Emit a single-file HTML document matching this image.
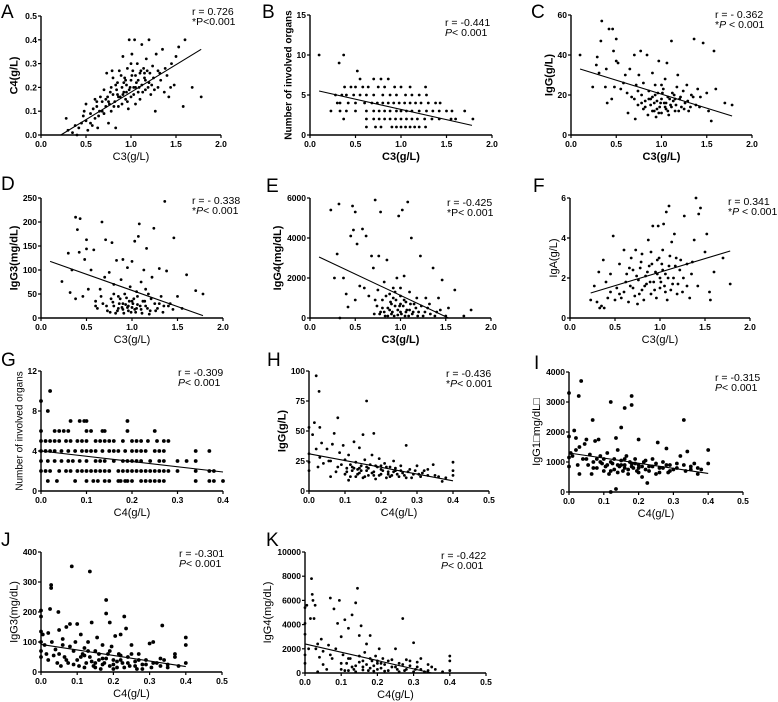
<!DOCTYPE html>
<html><head><meta charset="utf-8"><style>
body{margin:0;background:#fff}
svg{display:block}
text{font-family:"Liberation Sans",Arial,sans-serif;fill:#000}
.tk{font-size:8.5px;font-weight:bold}
.ann{font-size:10.5px}
.lt{font-size:19px}
</style></head><body>
<svg id="fig" width="778" height="702" viewBox="0 0 778 702" xmlns="http://www.w3.org/2000/svg"></svg>
<script>
const ptsA=[[0.28,0.07],[0.3,0.02],[0.35,0.01],[0.38,0.04],[0.4,0],[0.42,0.03],[0.45,0.05],[0.47,0.08],[0.48,0.1],[0.5,0.06],[0.5,0.13],[0.52,0.02],[0.55,0.09],[0.57,0.04],[0.58,0.11],[0.6,0.07],[0.6,0.15],[0.62,0.12],[0.63,0.03],[0.65,0.1],[0.66,0.16],[0.68,0.14],[0.7,0.09],[0.7,0.19],[0.72,0.12],[0.73,0.26],[0.74,0.16],[0.75,0.05],[0.76,0.13],[0.78,0.2],[0.78,0.1],[0.8,0.17],[0.8,0.24],[0.82,0.14],[0.83,0.03],[0.84,0.19],[0.85,0.22],[0.86,0.12],[0.87,0.27],[0.88,0.16],[0.9,0.2],[0.9,0.13],[0.91,0.33],[0.92,0.18],[0.93,0.24],[0.94,0.15],[0.95,0.21],[0.96,0.28],[0.97,0.11],[0.98,0.4],[0.98,0.19],[1.0,0.23],[1.0,0.16],[1.01,0.34],[1.02,0.27],[1.03,0.2],[1.04,0.4],[1.05,0.13],[1.05,0.25],[1.07,0.3],[1.08,0.18],[1.08,0.23],[1.1,0.26],[1.1,0.15],[1.12,0.38],[1.12,0.21],[1.14,0.28],[1.15,0.24],[1.16,0.19],[1.17,0.32],[1.18,0.27],[1.2,0.22],[1.2,0.4],[1.22,0.17],[1.24,0.29],[1.25,0.24],[1.27,0.1],[1.28,0.34],[1.3,0.2],[1.3,0.27],[1.33,0.23],[1.35,0.36],[1.37,0.18],[1.4,0.25],[1.42,0.16],[1.45,0.3],[1.48,0.21],[1.5,0.33],[1.53,0.37],[1.58,0.12],[1.6,0.4],[1.68,0.2],[1.78,0.16],[0.85,0.17],[0.95,0.18],[1.05,0.2],[0.75,0.14],[0.92,0.22],[1.15,0.26],
[0.72,0.15],[0.77,0.18],[0.81,0.12],[0.83,0.21],[0.86,0.16],[0.89,0.25],[0.91,0.17],[0.94,0.23],[0.96,0.14],[0.99,0.2],[1.01,0.25],[1.03,0.17],[1.06,0.22],[1.09,0.2],[1.11,0.27],[1.13,0.18],[1.16,0.23],[1.19,0.2],[1.21,0.26],[1.23,0.21],[1.26,0.19],[1.32,0.26],[0.68,0.1],[0.64,0.08],[0.55,0.05],[0.62,0.14],[1.38,0.28],[1.44,0.2],[0.79,0.27],[1.0,0.3]];
const lineA=[[0.22,0],[1.78,0.36]];
const bRowValues=[10,9,8,7,6,5,4,3,2,1];
const bRowX=[[0.1,0.37],[0.32],[0.52],[0.55,0.7,0.78,0.86],[0.38,0.45,0.5,0.58,0.64,0.75,0.82,0.93,1.0,1.1,1.27],[0.28,0.35,0.4,0.48,0.55,0.62,0.7,0.8,0.88,0.95,1.05,1.12,1.2,1.28],[0.3,0.33,0.42,0.5,0.6,0.68,0.74,0.8,0.86,0.92,0.98,1.04,1.1,1.16,1.22,1.3,1.38,1.43],[0.23,0.33,0.4,0.5,0.62,0.7,0.76,0.82,0.88,0.95,1.0,1.06,1.12,1.2,1.28,1.35,1.42,1.5,1.56,1.7],[0.37,0.62,0.7,0.76,0.82,0.88,0.94,1.0,1.06,1.12,1.18,1.26,1.34,1.42,1.55,1.6,1.79],[0.62,0.72,0.78,0.9,0.95,1.0,1.05,1.1,1.15,1.2,1.27]];
const lineB=[[0.1,5.5],[1.78,1.2]];
const ptsC=[[0.1,40],[0.24,24],[0.28,35],[0.29,39],[0.31,31],[0.33,47],[0.34,57],[0.38,24],[0.39,33],[0.4,16],[0.42,53],[0.45,18],[0.46,53],[0.47,42],[0.48,24],[0.5,48],[0.5,37],[0.52,36],[0.55,23],[0.58,26],[0.6,30],[0.62,21],[0.63,11],[0.65,33],[0.67,19],[0.7,40],[0.71,8],[0.72,25],[0.74,15],[0.75,30],[0.77,42],[0.78,20],[0.8,13],[0.8,26],[0.82,17],[0.84,40],[0.85,10],[0.86,22],[0.88,15],[0.9,19],[0.9,31],[0.92,12],[0.93,25],[0.95,17],[0.96,21],[0.97,37],[0.98,14],[1.0,18],[1.0,11],[1.02,23],[1.03,16],[1.04,28],[1.05,13],[1.06,36],[1.07,19],[1.08,10],[1.1,15],[1.11,47],[1.12,21],[1.13,17],[1.15,12],[1.17,24],[1.18,30],[1.2,18],[1.22,14],[1.24,22],[1.26,16],[1.28,25],[1.3,12],[1.33,20],[1.36,48],[1.38,15],[1.4,23],[1.43,19],[1.46,46],[1.5,21],[1.52,12],[1.55,7],[1.58,42],[1.6,23],[1.7,16],[1.78,15],[0.88,18],[0.95,13],[1.05,16],[1.15,18],[0.92,16],
[0.82,14],[0.86,18],[0.9,12],[0.93,20],[0.97,11],[0.99,16],[1.01,21],[1.04,14],[1.07,12],[1.09,18],[1.11,14],[1.14,20],[1.16,15],[1.19,12],[1.21,19],[1.25,13],[1.29,17],[1.32,14],[0.78,16],[0.74,22],[0.7,18],[1.35,19],[1.42,14],[1.0,25],[0.94,9]];
const lineC=[[0.1,33],[1.78,9.5]];
const ptsD=[[0.23,76],[0.3,135],[0.32,53],[0.34,100],[0.38,40],[0.38,210],[0.4,184],[0.42,137],[0.43,207],[0.46,45],[0.48,122],[0.5,163],[0.5,144],[0.52,60],[0.55,100],[0.58,142],[0.6,35],[0.62,20],[0.65,60],[0.67,200],[0.68,30],[0.7,85],[0.71,163],[0.73,15],[0.75,95],[0.77,40],[0.78,157],[0.8,25],[0.8,70],[0.82,10],[0.83,120],[0.85,45],[0.86,30],[0.88,80],[0.9,18],[0.9,122],[0.92,50],[0.93,28],[0.95,105],[0.96,15],[0.97,35],[0.98,65],[1.0,22],[1.0,118],[1.02,40],[1.03,160],[1.04,12],[1.05,55],[1.06,28],[1.07,170],[1.08,196],[1.1,18],[1.1,75],[1.12,35],[1.13,100],[1.15,25],[1.16,145],[1.18,50],[1.2,15],[1.22,85],[1.24,187],[1.25,30],[1.28,20],[1.3,103],[1.32,45],[1.35,25],[1.36,243],[1.38,98],[1.42,30],[1.45,18],[1.46,167],[1.5,45],[1.55,20],[1.6,90],[1.7,57],[1.78,50],[0.9,30],[0.95,22],[1.0,35],[1.05,20],[0.85,20],
[0.72,25],[0.76,12],[0.79,33],[0.84,15],[0.87,40],[0.89,22],[0.91,10],[0.94,42],[0.96,25],[0.99,12],[1.01,30],[1.03,18],[1.06,45],[1.09,25],[1.11,10],[1.14,35],[1.17,20],[1.19,8],[1.21,40],[1.26,15],[1.3,30],[1.34,12],[1.4,25],[0.66,45],[0.6,25],[1.15,60],[0.8,50]];
const lineD=[[0.1,118],[1.78,5]];
const ptsE=[[0.23,5400],[0.27,2000],[0.3,3200],[0.32,5700],[0.33,0],[0.37,2000],[0.4,1200],[0.42,550],[0.45,4100],[0.47,5600],[0.48,4400],[0.5,5300],[0.5,900],[0.52,3700],[0.55,1600],[0.58,4450],[0.6,1500],[0.62,4100],[0.65,1100],[0.68,3100],[0.7,2500],[0.71,200],[0.72,5900],[0.74,600],[0.75,1400],[0.76,3100],[0.78,5300],[0.78,300],[0.8,900],[0.82,1800],[0.83,100],[0.85,2900],[0.86,500],[0.88,1200],[0.9,200],[0.9,700],[0.92,1500],[0.93,100],[0.95,900],[0.96,2000],[0.97,400],[0.98,5100],[1.0,300],[1.0,1100],[1.02,5400],[1.03,600],[1.04,2100],[1.05,100],[1.06,800],[1.08,5800],[1.1,400],[1.1,1300],[1.12,4000],[1.13,200],[1.15,700],[1.18,1000],[1.2,300],[1.22,3100],[1.25,100],[1.28,1000],[1.3,500],[1.33,200],[1.36,2500],[1.4,300],[1.42,1000],[1.46,1900],[1.5,100],[1.53,500],[1.6,1400],[1.7,100],[1.78,400],[0.88,400],[0.94,600],[1.0,700],[1.06,300],[0.82,300],
[0.72,900],[0.77,200],[0.8,500],[0.84,1100],[0.86,100],[0.89,800],[0.91,300],[0.94,1300],[0.97,150],[0.99,600],[1.01,200],[1.04,900],[1.07,400],[1.09,100],[1.11,700],[1.14,300],[1.17,500],[1.19,100],[1.23,600],[1.27,300],[1.32,700],[1.38,100],[1.44,400],[1.0,1500],[0.92,1000]];
const lineE=[[0.1,3050],[1.53,0]];
const ptsF=[[0.23,0.9],[0.27,1.6],[0.3,0.8],[0.32,2.3],[0.33,0.5],[0.35,0.6],[0.37,2.9],[0.38,0.5],[0.4,1.8],[0.42,1.0],[0.45,2.2],[0.48,4.1],[0.5,0.9],[0.52,1.5],[0.55,2.7],[0.57,1.0],[0.6,3.4],[0.6,1.3],[0.63,2.2],[0.65,0.8],[0.67,1.6],[0.68,3.0],[0.7,2.4],[0.72,1.1],[0.73,3.4],[0.75,0.7],[0.76,1.9],[0.78,2.5],[0.8,1.4],[0.8,3.2],[0.82,0.9],[0.84,2.1],[0.85,1.7],[0.87,3.9],[0.88,2.6],[0.9,1.2],[0.9,3.3],[0.92,4.6],[0.93,1.8],[0.95,2.3],[0.96,1.0],[0.97,2.9],[0.98,4.6],[1.0,2.0],[1.0,1.5],[1.02,2.7],[1.03,3.4],[1.04,4.7],[1.05,1.6],[1.06,2.2],[1.07,5.3],[1.08,0.9],[1.1,5.6],[1.1,2.6],[1.12,1.4],[1.13,3.8],[1.15,2.0],[1.16,4.2],[1.18,3.0],[1.2,1.7],[1.22,2.4],[1.25,1.3],[1.27,5.1],[1.3,2.7],[1.33,1.0],[1.35,2.2],[1.38,3.9],[1.4,6.0],[1.42,1.6],[1.43,5.2],[1.45,5.5],[1.5,3.3],[1.52,4.2],[1.55,1.3],[1.56,0.9],[1.6,2.3],[1.7,3.0],[1.78,1.7],
[0.62,1.8],[0.66,2.5],[0.7,1.5],[0.74,2.1],[0.77,1.2],[0.79,2.8],[0.83,1.6],[0.86,2.3],[0.89,1.8],[0.91,2.7],[0.94,1.4],[0.97,2.2],[0.99,3.0],[1.01,1.8],[1.03,2.4],[1.06,1.3],[1.09,2.0],[1.11,3.1],[1.14,1.7],[1.17,2.6],[1.19,1.2],[1.23,2.9],[1.26,2.0],[1.3,1.6],[1.36,2.8],[0.55,1.2],[0.45,1.3]];
const lineF=[[0.23,1.25],[1.78,3.35]];
const gRowValues=[10,9,8,7,6,5,4,3,2,1];
const gRowX=[[0.02],[0.0],[0.015],[0.065,0.085,0.095,0.1,0.19],[0.0,0.03,0.04,0.05,0.06,0.1,0.11,0.135,0.14,0.19,0.25],[0,0.01,0.02,0.03,0.04,0.055,0.065,0.08,0.09,0.1,0.12,0.13,0.14,0.15,0.16,0.18,0.2,0.21,0.22,0.235,0.255,0.27,0.28],[0,0.01,0.02,0.03,0.045,0.06,0.075,0.09,0.1,0.11,0.12,0.135,0.15,0.16,0.17,0.185,0.2,0.21,0.22,0.23,0.25,0.26,0.27,0.34,0.37],[0,0.015,0.03,0.045,0.06,0.07,0.085,0.1,0.12,0.13,0.14,0.16,0.18,0.19,0.2,0.21,0.22,0.24,0.26,0.27,0.3,0.32,0.34],[0,0.01,0.02,0.04,0.055,0.065,0.08,0.09,0.1,0.11,0.12,0.13,0.14,0.15,0.17,0.18,0.19,0.2,0.21,0.22,0.23,0.24,0.25,0.26,0.27,0.28,0.3,0.34,0.37,0.38],[0.015,0.035,0.075,0.1,0.115,0.125,0.14,0.15,0.17,0.175,0.185,0.19,0.2,0.22,0.23,0.24,0.25,0.26,0.27,0.34,0.37,0.38,0.4]];
const lineG=[[0,4],[0.4,1.9]];
const ptsH=[[0,53],[0,24],[0,31],[0,17],[0.01,47],[0.015,57],[0.02,96],[0.02,35],[0.025,20],[0.028,83],[0.03,53],[0.03,28],[0.035,40],[0.04,23],[0.05,35],[0.055,25],[0.06,12],[0.065,39],[0.07,48],[0.075,16],[0.08,61],[0.085,32],[0.09,22],[0.095,38],[0.1,26],[0.1,14],[0.105,19],[0.11,30],[0.11,9],[0.115,22],[0.12,17],[0.125,41],[0.13,24],[0.13,12],[0.135,18],[0.14,36],[0.14,15],[0.145,21],[0.15,47],[0.15,11],[0.155,26],[0.16,75],[0.16,17],[0.165,13],[0.17,22],[0.175,30],[0.18,16],[0.18,48],[0.185,10],[0.19,20],[0.195,27],[0.2,14],[0.2,18],[0.21,23],[0.215,11],[0.22,16],[0.225,20],[0.23,13],[0.235,25],[0.24,17],[0.25,12],[0.255,21],[0.26,15],[0.27,38],[0.27,11],[0.28,18],[0.29,14],[0.3,21],[0.31,12],[0.32,17],[0.33,13],[0.345,22],[0.36,12],[0.37,8],[0.4,24],[0.4,17],[0.4,13],[0.14,19],[0.16,20],[0.18,13],[0.2,21],[0.12,20],[0.22,14],[0.24,19],
[0.105,16],[0.115,12],[0.125,19],[0.135,14],[0.145,17],[0.155,12],[0.165,19],[0.175,15],[0.185,21],[0.195,13],[0.205,17],[0.215,20],[0.225,12],[0.235,16],[0.245,14],[0.255,17],[0.265,13],[0.275,16],[0.285,11],[0.295,17],[0.305,14],[0.315,15],[0.33,18],[0.35,13],[0.38,11],[0.06,25],[0.08,20]];
const lineH=[[0,31],[0.4,8.5]];
const ptsI=[[0,3300],[0,1850],[0,1150],[0,850],[0.005,1300],[0.01,1200],[0.015,2050],[0.02,1800],[0.02,1400],[0.025,900],[0.028,3200],[0.03,1500],[0.03,600],[0.035,3700],[0.04,1100],[0.045,1600],[0.05,1750],[0.055,900],[0.06,1250],[0.065,600],[0.068,2400],[0.07,1000],[0.075,1700],[0.08,800],[0.085,1750],[0.09,1200],[0.095,950],[0.1,700],[0.1,1100],[0.105,850],[0.11,1300],[0.115,600],[0.12,3000],[0.12,0],[0.125,950],[0.13,750],[0.135,1800],[0.135,100],[0.14,1400],[0.145,850],[0.15,2150],[0.15,1050],[0.155,700],[0.16,2800],[0.16,900],[0.165,1200],[0.17,600],[0.175,1000],[0.18,3200],[0.18,2900],[0.185,800],[0.19,1100],[0.195,700],[0.2,1750],[0.2,900],[0.21,500],[0.215,1000],[0.22,750],[0.225,300],[0.23,850],[0.24,1100],[0.25,600],[0.255,1650],[0.26,800],[0.27,1000],[0.28,1450],[0.285,650],[0.29,900],[0.3,750],[0.31,950],[0.32,1200],[0.33,2400],[0.335,700],[0.34,1350],[0.35,850],[0.36,950],[0.37,600],[0.38,750],[0.4,1400],[0.4,950],[0.14,900],[0.16,800],[0.18,950],[0.2,800],[0.12,1000],
[0.05,1100],[0.07,800],[0.09,1000],[0.11,900],[0.12,700],[0.13,1100],[0.14,650],[0.15,900],[0.16,1100],[0.17,750],[0.18,850],[0.19,950],[0.2,650],[0.21,850],[0.22,1050],[0.23,700],[0.24,850],[0.25,950],[0.26,650],[0.27,800],[0.28,900],[0.29,700],[0.31,800],[0.33,900],[0.35,750],[0.37,800],[0.08,1100]];
const lineI=[[0,1300],[0.4,620]];
const ptsJ=[[0,205],[0,185],[0,135],[0,100],[0,70],[0,50],[0.005,125],[0.01,90],[0.015,60],[0.02,130],[0.02,40],[0.025,210],[0.028,290],[0.028,280],[0.03,100],[0.035,55],[0.04,75],[0.045,30],[0.048,200],[0.05,140],[0.055,20],[0.06,90],[0.065,50],[0.07,150],[0.075,30],[0.08,160],[0.085,352],[0.09,70],[0.095,100],[0.1,160],[0.1,40],[0.105,20],[0.11,125],[0.115,60],[0.12,80],[0.125,30],[0.13,100],[0.135,335],[0.135,50],[0.14,165],[0.145,20],[0.15,70],[0.155,115],[0.16,40],[0.165,10],[0.17,90],[0.175,30],[0.18,240],[0.18,195],[0.185,60],[0.19,165],[0.19,20],[0.195,85],[0.2,40],[0.205,120],[0.21,15],[0.215,60],[0.22,125],[0.225,30],[0.23,185],[0.235,145],[0.24,50],[0.245,20],[0.25,90],[0.26,35],[0.265,10],[0.27,60],[0.28,25],[0.29,40],[0.3,95],[0.305,15],[0.31,100],[0.32,30],[0.33,20],[0.335,155],[0.34,40],[0.35,15],[0.37,60],[0.37,50],[0.38,20],[0.4,115],[0.4,90],[0.4,30],[0.15,30],[0.17,45],[0.2,25],[0.12,55],[0.22,40],
[0.05,60],[0.07,40],[0.09,25],[0.11,50],[0.12,15],[0.13,70],[0.14,35],[0.15,15],[0.16,60],[0.17,25],[0.18,45],[0.19,70],[0.2,10],[0.21,35],[0.22,55],[0.23,15],[0.24,30],[0.25,60],[0.26,20],[0.27,40],[0.28,10],[0.29,25],[0.31,30],[0.33,45],[0.35,25],[0.08,85],[0.06,110]];
const lineJ=[[0,92],[0.4,18]];
const ptsK=[[0,5400],[0,4100],[0,3200],[0,1500],[0,800],[0.005,5600],[0.01,2000],[0.015,4500],[0.018,7800],[0.02,6500],[0.022,6000],[0.025,4500],[0.028,5600],[0.03,2000],[0.035,2400],[0.035,100],[0.04,1300],[0.045,2800],[0.05,1800],[0.06,300],[0.065,2300],[0.07,6200],[0.075,1200],[0.08,5300],[0.085,2000],[0.09,4100],[0.095,6000],[0.1,3000],[0.1,300],[0.105,1500],[0.11,4400],[0.115,800],[0.12,3700],[0.125,1200],[0.13,4800],[0.135,300],[0.14,5800],[0.145,7000],[0.15,3100],[0.15,900],[0.155,3900],[0.16,500],[0.165,1700],[0.17,2400],[0.175,200],[0.18,3100],[0.185,1000],[0.19,600],[0.195,1400],[0.2,300],[0.205,2000],[0.21,800],[0.215,1200],[0.22,150],[0.23,1000],[0.24,500],[0.25,2000],[0.255,300],[0.26,800],[0.27,4500],[0.275,200],[0.28,1100],[0.29,600],[0.3,2500],[0.305,300],[0.31,900],[0.32,1200],[0.33,100],[0.34,700],[0.36,300],[0.38,100],[0.4,1400],[0.4,1000],[0.4,200],[0.14,600],[0.16,1000],[0.18,400],[0.2,800],[0.12,200],
[0.1,800],[0.11,200],[0.12,1200],[0.13,500],[0.14,100],[0.15,1400],[0.16,250],[0.17,700],[0.18,1200],[0.19,150],[0.2,1000],[0.21,400],[0.22,700],[0.23,200],[0.24,1100],[0.25,500],[0.26,100],[0.27,700],[0.28,300],[0.29,1000],[0.3,100],[0.31,500],[0.32,300],[0.34,200],[0.35,500],[0.05,700],[0.07,1500]];
const lineK=[[0,2400],[0.35,0]];
const xTicksC3=["0.0","0.5","1.0","1.5","2.0"];
const xTicksC4a=["0.0","0.1","0.2","0.3","0.4","0.5"];
const xTicksC4g=["0.0","0.1","0.2","0.3","0.4"];
const yTicksA=["0.0","0.1","0.2","0.3","0.4","0.5"];
const yTicksB=["0","5","10","15"];
const yTicksC=["0","20","40","60"];
const yTicksD=["0","50","100","150","200","250"];
const yTicksE=["0","2000","4000","6000"];
const yTicksF=["0","2","4","6"];
const yTicksG=["0","4","8","12"];
const yTicksH=["0","25","50","75","100"];
const yTicksI=["0","1000","2000","3000","4000"];
const yTicksJ=["0","100","200","300","400"];
const yTicksK=["0","2000","4000","6000","8000","10000"];

function rows(vals,xs){const o=[];vals.forEach((v,i)=>xs[i].forEach(x=>o.push([x,v])));return o;}
const NS="http://www.w3.org/2000/svg";
const svg=document.getElementById('fig');
function mk(tag,attrs,parent,txt){const e=document.createElementNS(NS,tag);for(const k in attrs)e.setAttribute(k,attrs[k]);if(txt!==undefined)e.textContent=txt;(parent||svg).appendChild(e);return e;}

const panels=[
 {id:'a',L:'A',lx:1,ly:18,x0:41,x1:221,yt:16,yb:135,xmax:2,ymax:0.5,xt:xTicksC3,yt2:yTicksA,pts:ptsA,line:lineA,r:1.4,xl:'C3(g/L)',xb:false,yl:'C4(g/L)',yb2:true,a1:'r = 0.726',p0:'*',p1:'P<0.001',it:false,ax:192,ay:15},
 {id:'b',L:'B',lx:262,ly:18,x0:310,x1:492,yt:15,yb:135,xmax:2,ymax:15,xt:xTicksC3,yt2:yTicksB,pts:rows(bRowValues,bRowX),line:lineB,r:1.4,xl:'C3(g/L)',xb:true,yl:'Number of involved organs',yb2:true,a1:'r = -0.441',p0:'',p1:'< 0.001',it:true,ax:445,ay:26},
 {id:'c',L:'C',lx:531,ly:18,x0:571,x1:752,yt:15,yb:135,xmax:2,ymax:60,xt:xTicksC3,yt2:yTicksC,pts:ptsC,line:lineC,r:1.4,xl:'C3(g/L)',xb:true,yl:'IgG(g/L)',yb2:true,a1:'r = - 0.362',p0:'*',p1:' < 0.001',it:true,ax:715,ay:18},
 {id:'d',L:'D',lx:1,ly:190,x0:41,x1:223,yt:198,yb:318,xmax:2,ymax:250,xt:xTicksC3,yt2:yTicksD,pts:ptsD,line:lineD,r:1.4,xl:'C3(g/L)',xb:false,yl:'IgG3(mg/dL)',yb2:true,a1:'r = - 0.338',p0:'*',p1:'< 0.001',it:true,ax:192,ay:204},
 {id:'e',L:'E',lx:266,ly:192,x0:310,x1:491,yt:198,yb:318,xmax:2,ymax:6000,xt:xTicksC3,yt2:yTicksE,pts:ptsE,line:lineE,r:1.4,xl:'C3(g/L)',xb:true,yl:'IgG4(mg/dL)',yb2:true,a1:'r = -0.425',p0:'*',p1:'P< 0.001',it:false,ax:447,ay:206},
 {id:'f',L:'F',lx:533,ly:192,x0:570,x1:750,yt:198,yb:318,xmax:2,ymax:6,xt:xTicksC3,yt2:yTicksF,pts:ptsF,line:lineF,r:1.4,xl:'C3(g/L)',xb:false,yl:'IgA(g/L)',yb2:false,a1:'r = 0.341',p0:'*',p1:' < 0.001',it:true,ax:728,ay:205},
 {id:'g',L:'G',lx:1,ly:366,x0:41,x1:223,yt:371,yb:491,xmax:0.4,ymax:12,xt:xTicksC4g,yt2:yTicksG,pts:rows(gRowValues,gRowX),line:lineG,r:1.9,xl:'C4(g/L)',xb:false,yl:'Number of involved organs',yb2:false,a1:'r = -0.309',p0:'',p1:'< 0.001',it:true,ax:178,ay:376},
 {id:'h',L:'H',lx:267,ly:366,x0:309,x1:489,yt:371,yb:491,xmax:0.5,ymax:100,xt:xTicksC4a,yt2:yTicksH,pts:ptsH,line:lineH,r:1.4,xl:'C4(g/L)',xb:false,yl:'IgG(g/L)',yb2:true,a1:'r = -0.436',p0:'*',p1:'< 0.001',it:true,ax:446,ay:377},
 {id:'i',L:'I',lx:534,ly:369,x0:569,x1:743,yt:372,yb:492,xmax:0.5,ymax:4000,xt:xTicksC4a,yt2:yTicksI,pts:ptsI,line:lineI,r:1.9,xl:'C4(g/L)',xb:false,yl:'IgG1\u25a1mg/dL\u25a1',yb2:false,a1:'r = -0.315',p0:'',p1:'< 0.001',it:true,ax:715,ay:381},
 {id:'j',L:'J',lx:1,ly:546,x0:41,x1:222,yt:552,yb:672,xmax:0.5,ymax:400,xt:xTicksC4a,yt2:yTicksJ,pts:ptsJ,line:lineJ,r:1.9,xl:'C4(g/L)',xb:false,yl:'IgG3(mg/dL)',yb2:false,a1:'r = -0.301',p0:'',p1:'< 0.001',it:true,ax:179,ay:557},
 {id:'k',L:'K',lx:266,ly:546,x0:305,x1:486,yt:552,yb:673,xmax:0.5,ymax:10000,xt:xTicksC4a,yt2:yTicksK,pts:ptsK,line:lineK,r:1.4,xl:'C4(g/L)',xb:false,yl:'IgG4(mg/dL)',yb2:false,a1:'r = -0.422',p0:'',p1:'< 0.001',it:true,ax:441,ay:559}
];

panels.forEach(p=>{
  const g=mk('g',{});
  
  
  const sx=v=>p.x0+(p.x1-p.x0)*v/p.xmax;
  const sy=v=>p.yb-(p.yb-p.yt)*v/p.ymax;
  const lt=mk('text',{x:p.lx,y:p.ly,class:'lt'},g,p.L);
  
  
  const ax=mk('path',{d:`M${p.x0},${p.yt}V${p.yb}H${p.x1}`,stroke:'#000','stroke-width':1.4,fill:'none'},g);
  
  
  const nx=p.xt.length-1;
  p.xt.forEach((t,i)=>{
    const x=sx(p.xmax*i/nx);
    mk('line',{x1:x,x2:x,y1:p.yb,y2:p.yb+3,stroke:'#000','stroke-width':1.2},g);
    const tt=mk('text',{x:x,y:p.yb+12,class:'tk','text-anchor':'middle'},g,t);
    
    
  });
  const ny=p.yt2.length-1;
  p.yt2.forEach((t,i)=>{
    const y=sy(p.ymax*i/ny);
    mk('line',{x1:p.x0-3,x2:p.x0,y1:y,y2:y,stroke:'#000','stroke-width':1.2},g);
    const tt=mk('text',{x:p.x0-4,y:y+3,class:'tk','text-anchor':'end'},g,t);
    
    
  });
  const xt=mk('text',{x:(p.x0+p.x1)/2,y:p.yb+25,'text-anchor':'middle','font-size':11,'font-weight':p.xb?'bold':'normal'},g,p.xl);
  
  
  const wide=p.yt2[ny].length;
  const tx=p.x0-8-wide*5.2;
  const cy=(p.yt+p.yb)/2;
  const yt=mk('text',{x:tx,y:cy,'text-anchor':'middle','font-size':p.yl.length>15?10:11,'font-weight':p.yb2?'bold':'normal',transform:`rotate(-90 ${tx} ${cy})`},g,p.yl);
  
  
  p.pts.forEach(d=>{
    const c=mk('circle',{cx:sx(d[0]),cy:sy(d[1]),r:p.r,fill:'#000'},g);
    
    
  });
  const ln=mk('line',{x1:sx(p.line[0][0]),y1:sy(p.line[0][1]),x2:sx(p.line[1][0]),y2:sy(p.line[1][1]),stroke:'#000','stroke-width':1.1},g);
  
  
  const a1=mk('text',{x:p.ax,y:p.ay,class:'ann'},g,p.a1);
  
  
  const a2=mk('text',{x:p.ax,y:p.ay+10,class:'ann'},g);
  
  
  if(p.it){
    mk('tspan',{},a2,p.p0);
    mk('tspan',{'font-style':'italic'},a2,'P');
    mk('tspan',{},a2,p.p1);
  } else {
    a2.textContent=p.p0+p.p1;
  }
});
</script>
</body></html>
